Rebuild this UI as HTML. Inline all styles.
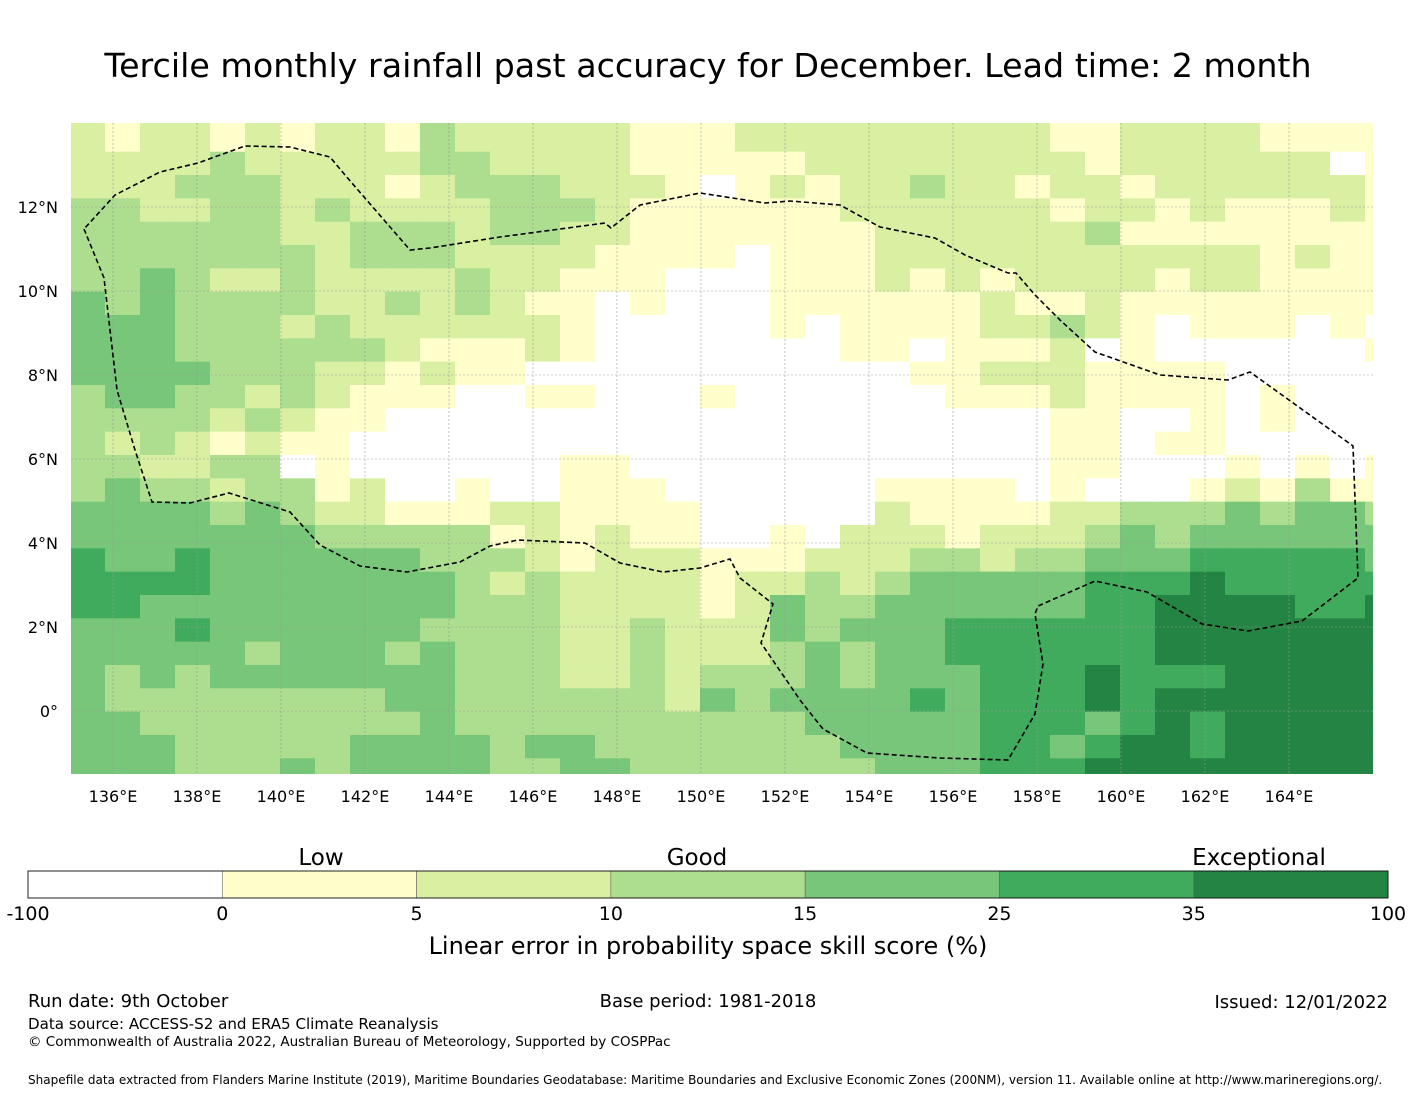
<!DOCTYPE html>
<html><head><meta charset="utf-8">
<style>
body{margin:0;background:#fff;font-family:"Liberation Sans","DejaVu Sans",sans-serif;}
svg text{font-family:"DejaVu Sans","Liberation Sans",sans-serif;}
</style></head>
<body>
<svg id="chart" width="1416" height="1095" viewBox="0 0 1416 1095" xmlns="http://www.w3.org/2000/svg">
<rect x="0" y="0" width="1416" height="1095" fill="#fff"/>
<text x="708" y="77" font-size="33.3" text-anchor="middle">Tercile monthly rainfall past accuracy for December. Lead time: 2 month</text>
<defs><clipPath id="mapclip"><rect x="71" y="123" width="1302" height="651"/></clipPath></defs>
<g id="cells" clip-path="url(#mapclip)"></g>
<g id="grid" clip-path="url(#mapclip)"></g>
<path id="eez" fill="none" stroke="#000" stroke-width="1.6" stroke-dasharray="5,3" clip-path="url(#mapclip)"/>
<g id="xticks"></g>
<g id="yticks"></g>
<g id="cbar"></g>
<text x="321" y="865" font-size="23" text-anchor="middle">Low</text>
<text x="697" y="865" font-size="23" text-anchor="middle">Good</text>
<text x="1259" y="865" font-size="23" text-anchor="middle">Exceptional</text>
<text x="708" y="954" font-size="24" text-anchor="middle">Linear error in probability space skill score (%)</text>
<text x="28" y="1007" font-size="18">Run date: 9th October</text>
<text x="708" y="1007" font-size="18" text-anchor="middle">Base period: 1981-2018</text>
<text x="1388" y="1008" font-size="18" text-anchor="end">Issued: 12/01/2022</text>
<text x="28" y="1029" font-size="15.1">Data source: ACCESS-S2 and ERA5 Climate Reanalysis</text>
<text x="28" y="1046" font-size="13.5">© Commonwealth of Australia 2022, Australian Bureau of Meteorology, Supported by COSPPac</text>
<text x="28" y="1084" font-size="12.05">Shapefile data extracted from Flanders Marine Institute (2019), Maritime Boundaries Geodatabase: Maritime Boundaries and Exclusive Economic Zones (200NM), version 11. Available online at http://www.marineregions.org/.</text>
</svg>
<script>
// Skill category per cell (0=<0, 1=0-5, 2=5-10, 3=10-15, 4=15-25, 5=25-35, 6=35-100), rows north->south, cols west->east
const gridRows = [
"2122121221322"+"222111222222"+"2221122221111",
"2122121221322"+"222111222222"+"2221122221111",
"2222322222332"+"222111112222"+"2222122222201",
"2223332221233"+"322210121223"+"2212212222221",
"3322332322223"+"332111111222"+"2221221211121",
"3333332233323"+"322111111122"+"2222311111111",
"3333333233322"+"221111011122"+"2222222221211",
"3343223222232"+"211100011121"+"2122221221111",
"4343333223232"+"110100011111"+"1211211111111",
"4443332322222"+"210000010111"+"1223210111010",
"4443333332111"+"210000000110"+"1112010000001",
"4444333221211"+"000000000001"+"1222111100000",
"3443323211100"+"110001000000"+"1112111101000",
"3333232110000"+"000000000000"+"0001100101000",
"3232121100000"+"000000000000"+"0001101100000",
"3322330100000"+"011000000000"+"0001100010101",
"3433233120010"+"011100000011"+"1101000121311",
"4444343221112"+"211110000021"+"1112233343443",
"4444444333331"+"212110010222"+"1222343444444",
"5445444444333"+"212221112223"+"3233444555554",
"5555444444432"+"322221223234"+"4444555655555",
"5544444444433"+"322221243344"+"4444556666556",
"4445444444333"+"322322243444"+"5555556666666",
"4444434443433"+"322322234344"+"5555556666666",
"4343444444433"+"322323334344"+"4555655566666",
"4333333334433"+"333324344445"+"4555656666666",
"4433333333433"+"333333334444"+"4555456566666",
"4443333344443"+"443333333444"+"4554566566666",
"4443334344443"+"344333333344"+"4555666666666"
];
const colorLevels = ["#ffffff","#ffffcc","#d9f0a3","#addd8e","#78c679","#41ab5d","#238443"];
const lonTicks = [136,138,140,142,144,146,148,150,152,154,156,158,160,162,164];
const latTicks = [12,10,8,6,4,2,0];
const cbarTickLabels = ["-100","0","5","10","15","25","35","100"];

const NS="http://www.w3.org/2000/svg";
function mk(tag, attrs, parent){const e=document.createElementNS(NS,tag);for(const k in attrs)e.setAttribute(k,attrs[k]);parent.appendChild(e);return e;}
function colX(c){return 70 + 35*c;}
function rowY(r){return r===0?123:128.33+23.333*(r-1);}
function rowH(r){return r===0?5.33:23.333;}
function lonX(lon){return 113 + (lon-136)*42;}
function latY(lat){return 711 - lat*42;}

const cells=document.getElementById('cells');
gridRows.forEach((row,r)=>{
  for(let c=0;c<row.length;c++){
    const lv=+row[c];
    const x=c===0?71:colX(c);
    const w=c===0?colX(1)-71:35;
    const el=mk('rect',{x:x,y:rowY(r),width:w+0.5,height:rowH(r)+0.5,fill:colorLevels[lv]},cells);
    
    
  }
});
const grid=document.getElementById('grid');
lonTicks.forEach(lon=>{
  const l=mk('line',{x1:lonX(lon),x2:lonX(lon),y1:123,y2:774,stroke:'#999',"stroke-width":0.6,"stroke-dasharray":"2,2"},grid);
  
  
  const t=mk('text',{x:lonX(lon),y:802,"font-size":16,"text-anchor":"middle"},document.getElementById('xticks'));
  t.textContent=lon+'°E';
  
  
});
latTicks.forEach(lat=>{
  const l=mk('line',{x1:71,x2:1373,y1:latY(lat),y2:latY(lat),stroke:'#999',"stroke-width":0.6,"stroke-dasharray":"2,2"},grid);
  
  
  const t=mk('text',{x:58,y:latY(lat)+6,"font-size":16,"text-anchor":"end"},document.getElementById('yticks'));
  t.textContent=lat===0?'0°':lat+'°N';
  
  
});
const eezPts=[[84,229],[104,278],[117,390],[135,450],[152,502],[190,503],[229,493],[290,512],[320,545],[360,566],[407,572],[460,562],[490,546],[518,540],[585,543],[620,563],[663,572],[700,568],[730,559],[740,578],[773,604],[761,643],[800,700],[823,729],[867,753],[940,758],[1008,760],[1035,714],[1043,664],[1035,614],[1038,606],[1095,581],[1147,592],[1202,624],[1248,631],[1302,621],[1358,578],[1353,446],[1250,372],[1228,380],[1160,375],[1095,352],[1060,320],[1035,295],[1016,273],[1008,273],[965,255],[935,238],[880,227],[840,205],[790,201],[765,203],[700,193],[640,205],[611,228],[605,223],[500,237],[430,248],[410,250],[345,175],[330,157],[290,147],[245,146],[198,163],[160,172],[115,195],[84,229]];
document.getElementById('eez').setAttribute('d','M'+eezPts.map(p=>p.join(',')).join(' L'));

const cbar=document.getElementById('cbar');
const cbX0=28,cbW=1360,segW=cbW/7;
for(let i=0;i<7;i++){
  const s=mk('rect',{x:cbX0+i*segW,y:871,width:segW,height:27,fill:colorLevels[i],stroke:'#666',"stroke-width":0.6},cbar);
  
  
}
mk('rect',{x:cbX0,y:871,width:cbW,height:27,fill:'none',stroke:'#000',"stroke-width":0.8},cbar);
cbarTickLabels.forEach((lab,i)=>{
  const t=mk('text',{x:cbX0+i*segW,y:920,"font-size":19,"text-anchor":"middle"},cbar);
  t.textContent=lab;
  
  
});
</script>
</body></html>
